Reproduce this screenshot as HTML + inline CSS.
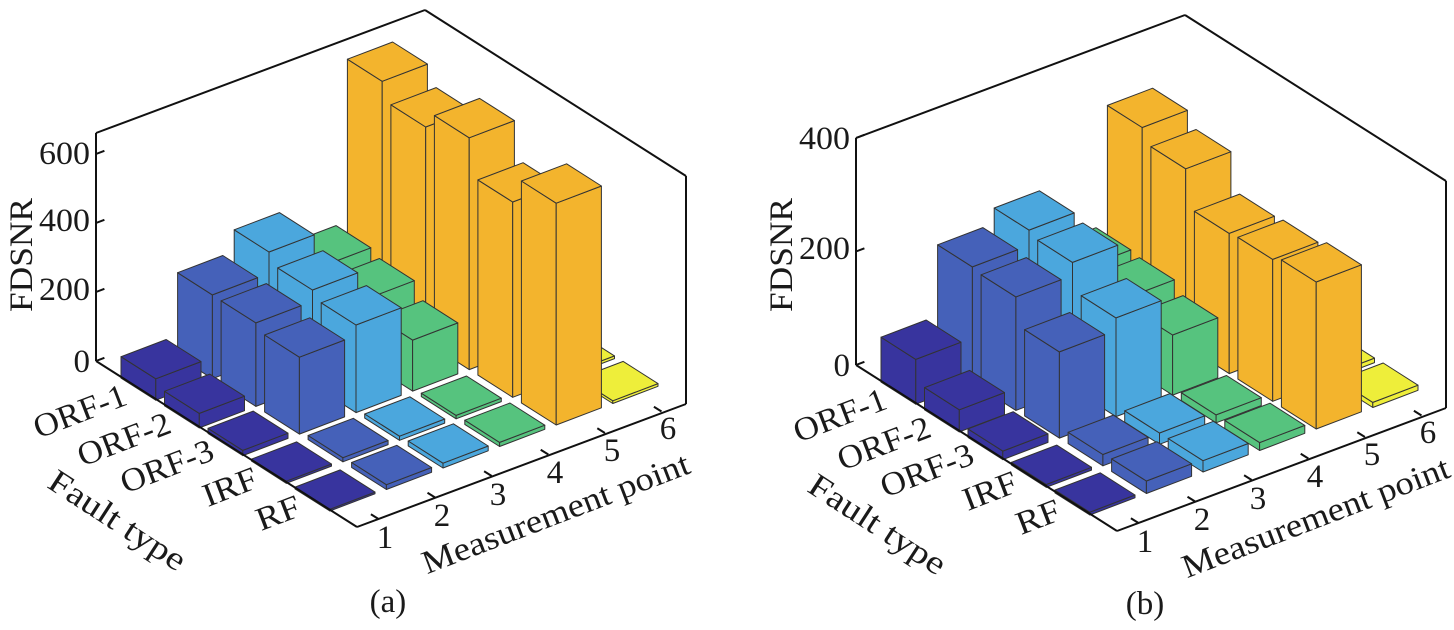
<!DOCTYPE html>
<html><head><meta charset="utf-8"><style>
html,body{margin:0;padding:0;background:#fff;}
svg{display:block;}
text{font-family:"Liberation Serif",serif;fill:#1a1a1a;}
</style></head><body>
<svg id="s" width="1454" height="630" viewBox="0 0 1454 630" xmlns="http://www.w3.org/2000/svg">
<g id="bars"></g>
<g id="axes" stroke="#111" stroke-width="2" fill="none"></g>
<g font-size="33">
<text x="90" y="164" text-anchor="end" textLength="51" lengthAdjust="spacingAndGlyphs">600</text>
<text x="90" y="231" text-anchor="end" textLength="51" lengthAdjust="spacingAndGlyphs">400</text>
<text x="90" y="300" text-anchor="end" textLength="51" lengthAdjust="spacingAndGlyphs">200</text>
<text x="90" y="372" text-anchor="end">0</text>
<text transform="translate(32,255) rotate(-90)" text-anchor="middle" textLength="114" lengthAdjust="spacingAndGlyphs">FDSNR</text>
<text x="129" y="404" text-anchor="end" transform="rotate(-21 129 404)" textLength="97" lengthAdjust="spacingAndGlyphs">ORF-1</text>
<text x="173" y="432" text-anchor="end" transform="rotate(-21 173 432)" textLength="97" lengthAdjust="spacingAndGlyphs">ORF-2</text>
<text x="216" y="459" text-anchor="end" transform="rotate(-21 216 459)" textLength="97" lengthAdjust="spacingAndGlyphs">ORF-3</text>
<text x="260" y="487" text-anchor="end" transform="rotate(-21 260 487)" textLength="56" lengthAdjust="spacingAndGlyphs">IRF</text>
<text x="303" y="515" text-anchor="end" transform="rotate(-21 303 515)" textLength="45" lengthAdjust="spacingAndGlyphs">RF</text>
<text transform="translate(117,521) rotate(33)" text-anchor="middle" dy="10" textLength="157" lengthAdjust="spacingAndGlyphs">Fault type</text>
<text x="385" y="548" text-anchor="middle">1</text>
<text x="442" y="526" text-anchor="middle">2</text>
<text x="498" y="505" text-anchor="middle">3</text>
<text x="555" y="483" text-anchor="middle">4</text>
<text x="612" y="461" text-anchor="middle">5</text>
<text x="668" y="439" text-anchor="middle">6</text>
<text transform="translate(556,514) rotate(-21)" text-anchor="middle" dy="10" textLength="284" lengthAdjust="spacingAndGlyphs">Measurement point</text>
<text x="388" y="612" text-anchor="middle">(a)</text>

<text x="850" y="149" text-anchor="end" textLength="51" lengthAdjust="spacingAndGlyphs">400</text>
<text x="850" y="259" text-anchor="end" textLength="51" lengthAdjust="spacingAndGlyphs">200</text>
<text x="850" y="376" text-anchor="end">0</text>
<text transform="translate(792,255) rotate(-90)" text-anchor="middle" textLength="114" lengthAdjust="spacingAndGlyphs">FDSNR</text>
<text x="889" y="408" text-anchor="end" transform="rotate(-21 889 408)" textLength="97" lengthAdjust="spacingAndGlyphs">ORF-1</text>
<text x="933" y="436" text-anchor="end" transform="rotate(-21 933 436)" textLength="97" lengthAdjust="spacingAndGlyphs">ORF-2</text>
<text x="976" y="463" text-anchor="end" transform="rotate(-21 976 463)" textLength="97" lengthAdjust="spacingAndGlyphs">ORF-3</text>
<text x="1020" y="491" text-anchor="end" transform="rotate(-21 1020 491)" textLength="56" lengthAdjust="spacingAndGlyphs">IRF</text>
<text x="1063" y="519" text-anchor="end" transform="rotate(-21 1063 519)" textLength="45" lengthAdjust="spacingAndGlyphs">RF</text>
<text transform="translate(877,525) rotate(33)" text-anchor="middle" dy="10" textLength="157" lengthAdjust="spacingAndGlyphs">Fault type</text>
<text x="1145" y="552" text-anchor="middle">1</text>
<text x="1202" y="530" text-anchor="middle">2</text>
<text x="1258" y="509" text-anchor="middle">3</text>
<text x="1315" y="487" text-anchor="middle">4</text>
<text x="1372" y="465" text-anchor="middle">5</text>
<text x="1428" y="443" text-anchor="middle">6</text>
<text transform="translate(1316,518) rotate(-21)" text-anchor="middle" dy="10" textLength="284" lengthAdjust="spacingAndGlyphs">Measurement point</text>
<text x="1145" y="614" text-anchor="middle">(b)</text>
</g>
</svg>
<script>
(function(){
var NS="http://www.w3.org/2000/svg";
var bars=document.getElementById('bars'),axes=document.getElementById('axes');
var cols=['#38349e','#4561b9','#4ba7dd','#56c37e','#f3b42d','#eeee3a'];
function chart(ox,oy,zs,ztop,vals,zt){
  function P(u,v,z){return [ox+(u-0.62)*56.6+v*43.5, oy-(u-0.62)*21.5+v*27.7-z*zs];}
  function poly(pts,fill,g){var p=document.createElementNS(NS,'polygon');
    p.setAttribute('points',pts.map(function(q){return q[0].toFixed(1)+','+q[1].toFixed(1);}).join(' '));
    p.setAttribute('fill',fill);p.setAttribute('stroke','#333');p.setAttribute('stroke-width','1');
    p.setAttribute('stroke-linejoin','round');g.appendChild(p);}
  var list=[];
  for(var v=1;v<=5;v++)for(var u=1;u<=6;u++)list.push([u,v,vals[v-1][u-1]]);
  list.sort(function(a,b){return (a[1]-a[0])-(b[1]-b[0]) || (a[1]-b[1]);});
  list.forEach(function(b){var u=b[0],v=b[1],h=b[2],c=cols[u-1];
    var u1=u-0.4,u2=u+0.4,v1=v-0.4,v2=v+0.4;
    poly([P(u1,v1,0),P(u1,v2,0),P(u1,v2,h),P(u1,v1,h)],c,bars);
    poly([P(u1,v2,0),P(u2,v2,0),P(u2,v2,h),P(u1,v2,h)],c,bars);
    poly([P(u1,v1,h),P(u2,v1,h),P(u2,v2,h),P(u1,v2,h)],c,bars);
  });
  function line(a,b){var l=document.createElementNS(NS,'line');
    l.setAttribute('x1',a[0]);l.setAttribute('y1',a[1]);l.setAttribute('x2',b[0]);l.setAttribute('y2',b[1]);axes.appendChild(l);}
  var B=[ox,oy],T=[ox,oy-ztop],A=[ox+329,oy-123-ztop],R=[ox+590,oy+43-ztop],RB=[ox+590,oy+43],F=[ox+261,oy+166];
  line(B,T);line(T,A);line(A,R);line(R,RB);line(B,F);line(F,RB);
  zt.forEach(function(z){var y=oy-z*zs;line([ox,y],[ox+8.4,y-3.2]);});
  for(var k=1;k<=6;k++){var p=P(k,6,0);line(p,[p[0]-7.6,p[1]-4.8]);}
}
chart(96,361,0.345,228,[
 [62,243,305,205,675,8],
 [42,242,275,190,623,8],
 [15,223,254,148,672,8],
 [6,12,12,10,566,8],
 [5,14,14,12,643,8]],[0,200,400,600]);
chart(856,365,0.5675,227,[
 [79,204,231,128,336,8],
 [39,200,223,124,312,8],
 [15,152,174,106,247,8],
 [5,20,20,14,250,8],
 [5,22,20,14,259,9]],[0,200,400]);
})();
</script>
</body></html>
